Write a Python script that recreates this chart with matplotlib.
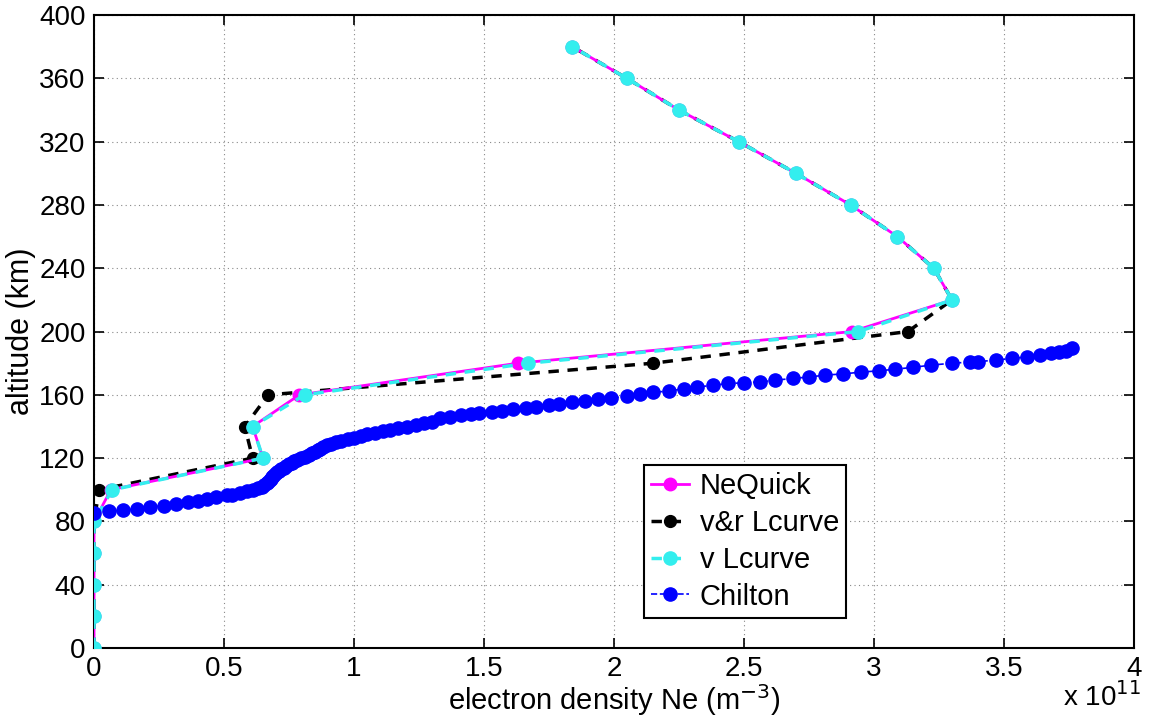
import matplotlib
matplotlib.use("Agg")
import matplotlib.pyplot as plt

# Höhen der Profile (km)
hoehe = [0, 20, 40, 60, 80, 100, 120, 140, 160, 180, 200, 220, 240, 260, 280, 300, 320, 340, 360, 380]

# Elektronendichte in Einheiten von 1e11 m^-3
ne_quick = [0, 0, 0, 0, 0, 0.065, 0.65, 0.61, 0.79, 1.63, 2.915, 3.30, 3.23, 3.09, 2.91, 2.70, 2.48, 2.25, 2.05, 1.84]
vr_lcurve = [0, 0, 0, 0, 0, 0.02, 0.61, 0.58, 0.67, 2.15, 3.13, 3.30, 3.23, 3.09, 2.91, 2.70, 2.48, 2.25, 2.05, 1.84]
v_lcurve = [0, 0, 0, 0, 0, 0.07, 0.65, 0.61, 0.81, 1.67, 2.94, 3.30, 3.23, 3.09, 2.91, 2.70, 2.48, 2.25, 2.05, 1.84]

chilton_ne = [0.0, 0.058, 0.11, 0.165, 0.215, 0.27, 0.315, 0.36, 0.40, 0.435, 0.47, 0.51,
              0.53, 0.56, 0.59, 0.61, 0.63, 0.645, 0.655, 0.665, 0.67, 0.675, 0.68, 0.685,
              0.69, 0.697, 0.705, 0.712, 0.72, 0.73, 0.74, 0.75, 0.76, 0.77, 0.78, 0.795,
              0.81, 0.825, 0.84, 0.85, 0.86, 0.87, 0.88, 0.895, 0.91, 0.93, 0.95, 0.975,
              1.00, 1.025, 1.05, 1.08, 1.11, 1.14, 1.17, 1.205, 1.24, 1.27, 1.30, 1.33,
              1.37, 1.41, 1.45, 1.48, 1.53, 1.57, 1.61, 1.66, 1.70, 1.75, 1.79, 1.84,
              1.89, 1.94, 1.99, 2.05, 2.10, 2.15, 2.21, 2.27, 2.32, 2.38, 2.44, 2.50,
              2.56, 2.62, 2.69, 2.75, 2.81, 2.88, 2.95, 3.02, 3.08, 3.15, 3.22, 3.30,
              3.37, 3.40, 3.47, 3.53, 3.59, 3.64, 3.68, 3.71, 3.74, 3.76]
chilton_h = [85.3, 86.5, 87.0, 88.0, 89.0, 90.0, 91.0, 92.0, 93.2, 94.3, 95.3, 96.5,
             97.0, 98.0, 99.0, 100.0, 101.0, 102.0, 103.0, 104.0, 105.0, 106.0, 107.0, 108.0,
             109.0, 110.0, 111.0, 112.0, 113.0, 114.0, 115.0, 116.0, 117.0, 118.0, 119.0, 120.0,
             121.0, 122.0, 123.0, 124.0, 125.0, 126.0, 127.0, 128.0, 129.0, 130.0, 131.0, 132.0,
             133.0, 134.0, 135.0, 136.0, 137.0, 138.0, 139.0, 140.0, 141.0, 142.0, 143.0, 145.3,
             146.0, 147.0, 147.8, 148.4, 149.0, 149.7, 151.0, 151.6, 152.2, 153.5, 154.0, 155.4,
             156.0, 157.3, 158.0, 159.0, 160.5, 161.7, 162.3, 164.0, 165.0, 166.0, 167.2, 167.6,
             168.2, 169.2, 170.5, 171.2, 172.5, 173.2, 174.4, 175.2, 176.2, 177.4, 178.8, 180.0,
             180.7, 181.0, 182.0, 183.0, 184.0, 185.0, 186.2, 187.0, 188.0, 189.5]

x_ticks = [0, 0.5, 1, 1.5, 2, 2.5, 3, 3.5, 4]
x_tick_labels = ["0", "0.5", "1", "1.5", "2", "2.5", "3", "3.5", "4"]
y_ticks = list(range(0, 401, 40))


def profil_diagramm():
    plt.rcParams["font.family"] = ["Liberation Sans", "DejaVu Sans"]
    fig = plt.figure(figsize=(11.49, 7.22), dpi=100)
    ax = fig.add_axes([0.0818, 0.1025, 0.9052, 0.8765])

    cyan = "#33EEEE"
    ax.plot(ne_quick, hoehe, "-o", color="#FF00FF", lw=2, ms=9, label="NeQuick", zorder=3)
    ax.plot(vr_lcurve, hoehe, "--o", color="black", lw=2.5, ms=8.5, dashes=(3, 2.5),
            label="v&r Lcurve", zorder=2)
    ax.plot(v_lcurve, hoehe, "--o", color=cyan, lw=2.5, ms=9.5, dashes=(3, 2.5),
            label="v Lcurve", zorder=4)
    ax.plot(chilton_ne, chilton_h, "--o", color="#0000FF", lw=1.2, ms=9.5,
            label="Chilton", zorder=5)

    ax.set_xlim(0, 4)
    ax.set_ylim(0, 400)
    ax.set_xticks(x_ticks)
    ax.set_xticklabels(x_tick_labels)
    ax.set_yticks(y_ticks)
    ax.tick_params(direction="in", length=7, width=1.2, labelsize=20, top=True, right=True, pad=6)
    ax.grid(True, linestyle=(0, (1, 3)), color="#888888", lw=0.8)
    for s in ax.spines.values():
        s.set_linewidth(1.5)

    ax.set_xlabel("electron density Ne (m$^{-3}$)", fontsize=21, labelpad=0)
    ax.set_ylabel("altitude (km)", fontsize=22, labelpad=2)
    fig.text(0.993, 0.022, "x 10$^{11}$", fontsize=20, ha="right")

    leg = ax.legend(loc="upper left", bbox_to_anchor=(0.529, 0.289), fontsize=21,
                    handlelength=1.3, fancybox=False, framealpha=1, edgecolor="black",
                    borderpad=0.25, labelspacing=0.3, handletextpad=0.35, borderaxespad=0)
    leg.get_frame().set_linewidth(1.5)

    fig.savefig("out.png", dpi=100)


if __name__ == "__main__":
    profil_diagramm()
